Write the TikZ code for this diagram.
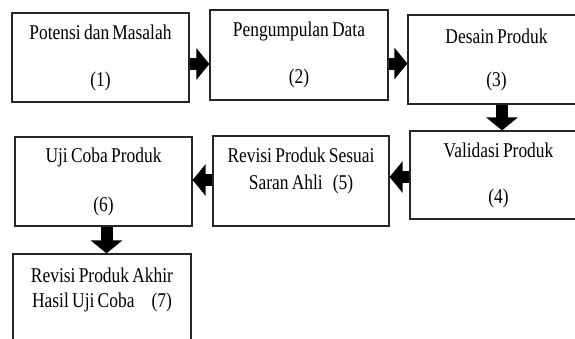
\documentclass[tikz,border=0pt]{standalone}
\usepackage{fontspec}
\setmainfont{Liberation Serif}[FakeStretch=0.83,WordSpace=0.75]
\usetikzlibrary{arrows.meta}

\begin{document}
\begin{tikzpicture}[
    x=1pt, y=-1pt,
    box/.style={draw=black!85, line width=1.2pt, align=center, minimum width=177pt, minimum height=89pt, inner sep=0pt, font=\fontsize{21}{25}\selectfont},
    bigarrow/.style={-{Triangle[width=31pt,length=13pt]}, line width=12pt}
]
\clip (0,0) rectangle (575,338);
\node[box] (b1) at (100.5,57.5) {Potensi dan Masalah\\[22pt](1)};
\node[box, minimum width=178pt, minimum height=90pt] (b2) at (299,55) {Pengumpulan Data\\[22pt](2)};
\node[box] (b3) at (496.5,59.5) {Desain Produk\\[18pt](3)};
\node[box, minimum height=88pt] (b4) at (498.5,175) {Validasi Produk\\[21pt](4)};
\node[box, minimum width=176pt, minimum height=90pt] (b5) at (301,181) {Revisi Produk Sesuai\\[2pt]Saran Ahli\hspace{10pt}(5)\\[0pt]\mbox{}};
\node[box] (b6) at (103.5,181.5) {Uji Coba Produk\\[24pt](6)};
\node[box, minimum width=178pt, minimum height=100pt] (b7) at (102,304) {Revisi Produk Akhir\\[0pt]Hasil Uji Coba\hspace{17pt}(7)\\[8.5pt]\mbox{}};

\draw[bigarrow] (b1.east |- 0,64) -- (b2.west |- 0,64);
\draw[bigarrow] (b2.east |- 0,63.5) -- (b3.west |- 0,63.5);
\draw[bigarrow] (b3.south -| 502,0) -- (b4.north -| 502,0);
\draw[bigarrow] (b4.west |- 0,177) -- (b5.east |- 0,177);
\draw[bigarrow] (b5.west |- 0,180) -- (b6.east |- 0,180);
\draw[bigarrow] (b6.south -| 106.5,0) -- (b7.north -| 106.5,0);
\end{tikzpicture}
\end{document}
